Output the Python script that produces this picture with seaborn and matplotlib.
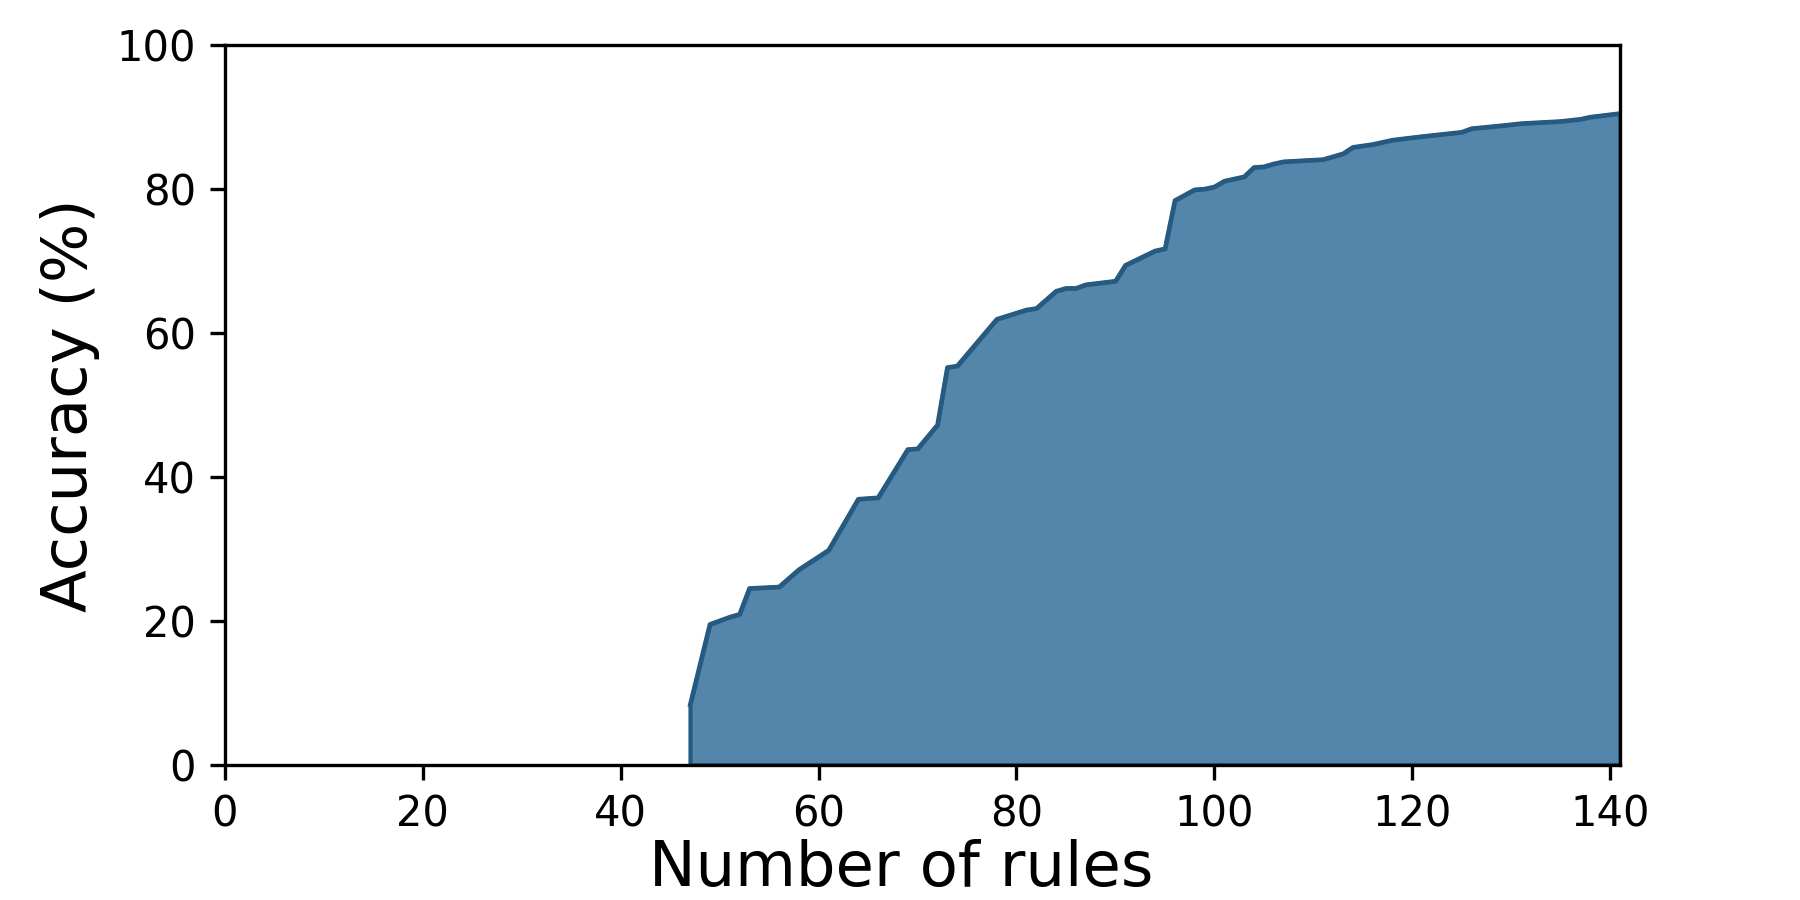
import numpy as np
import pandas as pd
import seaborn as sns
import matplotlib.pyplot as plt

# values
n_rules = [47, 49, 51, 52, 53, 56, 58, 61, 64, 66,
           69, 70, 72, 73, 74, 78, 81, 82, 84, 85,
           86, 87, 90, 91, 94, 95, 96, 98, 99, 100,
           101, 103, 104, 105, 106, 107, 111, 113, 114, 116,
           117, 118, 121, 125, 126, 129, 131, 135, 137, 138,
           141]
accuracy = [8.3, 19.5, 20.5, 20.9, 24.5, 24.7, 27.1, 29.8, 36.9, 37.1,
            43.8, 43.9, 47.2, 55.2, 55.4, 61.9, 63.2, 63.4, 65.8, 66.2,
            66.2, 66.7, 67.2, 69.4, 71.4, 71.7, 78.4, 79.9, 80.0, 80.3,
            81.1, 81.7, 83.0, 83.1, 83.5, 83.8, 84.1, 84.9, 85.8, 86.2,
            86.5, 86.8, 87.3, 87.9, 88.4, 88.8, 89.1, 89.4, 89.7, 90.0,
            90.5]

df = pd.DataFrame({'rules': n_rules, 'acc': accuracy})

fill_col = '#5485ab'
edge_col = '#265a80'

fig, ax = plt.subplots(figsize=(6, 3), dpi=300)
fig.subplots_adjust(left=0.125, right=0.9, bottom=0.1505, top=0.95)

ax.fill_between(df['rules'], 0, df['acc'], facecolor=fill_col,
                edgecolor=edge_col, linewidth=1.0)
sns.lineplot(data=df, x='rules', y='acc', color=edge_col, linewidth=1.0, ax=ax)

ax.set_xlim(0, 141)
ax.set_ylim(0, 100)
ax.set_xticks(range(0, 141, 20))
ax.set_yticks(range(0, 101, 20))
ax.tick_params(labelsize=10)
ax.set_xlabel('Number of rules', fontsize=15)
ax.set_ylabel('Accuracy (%)', fontsize=15, labelpad=4)
ax.xaxis.set_label_coords(0.485, -0.104)

fig.savefig('out.png', dpi=300)
